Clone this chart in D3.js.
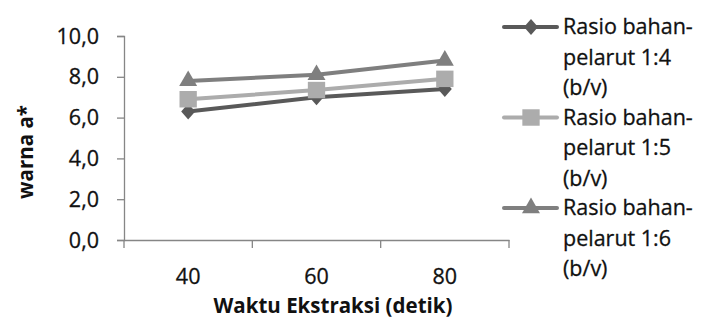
<!DOCTYPE html>
<html>
<head>
<meta charset="utf-8">
<script src="https://cdn.jsdelivr.net/npm/d3@7"></script>
<style>
  html, body { margin: 0; padding: 0; background: #fff; }
  svg { display: block; }
  text { font-family: "Open Sans", "Noto Sans", sans-serif; fill: #111; }
  text.reg { stroke: #111; stroke-width: 0.3px; }
</style>
</head>
<body>
<svg id="chart" width="704" height="327"></svg>
<script>
// Waktu ekstraksi (detik) and warna a* per rasio bahan-pelarut
const waktu = [40, 60, 80];
const rasio14 = [6.3, 7.0, 7.4];
const rasio15 = [6.9, 7.35, 7.9];
const rasio16 = [7.8, 8.1, 8.8];
const seriesNames = [
  ["Rasio bahan-", "pelarut 1:4", "(b/v)"],
  ["Rasio bahan-", "pelarut 1:5", "(b/v)"],
  ["Rasio bahan-", "pelarut 1:6", "(b/v)"]
];
const yTicks = [0, 2, 4, 6, 8, 10];
const xTitle = "Waktu Ekstraksi (detik)";
const yTitle = "warna a*";

const series = [
  { name: seriesNames[0], values: rasio14, color: "#595959", symbol: d3.symbolDiamond2, size: 125, sy: 1.15 },
  { name: seriesNames[1], values: rasio15, color: "#acacac", symbol: d3.symbolSquare, size: 300, sy: 0.95 },
  { name: seriesNames[2], values: rasio16, color: "#7f7f7f", symbol: d3.symbolTriangle, size: 140, sy: 1 }
];

const svg = d3.select("#chart");
const plot = { left: 124, right: 509, top: 36, bottom: 240 };

const x = d3.scaleBand().domain(waktu).range([plot.left, plot.right]).padding(0);
const y = d3.scaleLinear().domain([0, 10]).range([plot.bottom, plot.top]);
const locale = d3.formatLocale({ decimal: ",", thousands: ".", grouping: [3], currency: ["", ""] });
const fmt = locale.format(".1f");
const axisColor = "#868686";

function label(g, tx, ty, str, opts) {
  return g.append("text")
    .attr("class", opts.weight === "bold" ? "bold" : "reg")
    .attr("x", tx).attr("y", ty)
    .attr("font-size", opts.size)
    .attr("text-anchor", opts.anchor || "start")
    .attr("font-weight", opts.weight || "normal")
    .text(str);
}

// Y axis
const yAxis = svg.append("g").attr("transform", `translate(${plot.left},0)`)
  .call(d3.axisLeft(y).tickValues(yTicks).tickSize(7).tickFormat(""));
yAxis.select(".domain").attr("stroke", axisColor).attr("stroke-width", 1.3);
yAxis.selectAll(".tick line").attr("stroke", axisColor).attr("stroke-width", 1.3);
yTicks.forEach(v => label(svg, 99, y(v) + 7.5, fmt(v), { size: 21.5, anchor: "end" }));

// X axis: ticks at category boundaries, labels at band centers
const xAxis = svg.append("g").attr("transform", `translate(0,${plot.bottom})`)
  .call(d3.axisBottom(x).tickSize(0).tickFormat(""));
xAxis.select(".domain").attr("stroke", axisColor).attr("stroke-width", 1.3);
const edges = waktu.map(d => x(d)).concat([x(waktu[waktu.length - 1]) + x.bandwidth()]);
xAxis.selectAll(".edge").data(edges).enter().append("line")
  .attr("x1", d => d).attr("x2", d => d).attr("y1", 0).attr("y2", 8)
  .attr("stroke", axisColor).attr("stroke-width", 1.3);
waktu.forEach(d => label(svg, x(d) + x.bandwidth() / 2, 283.5, String(d), { size: 21.5, anchor: "middle" }));

// Axis titles
label(svg, 333, 313, xTitle, { size: 20.5, anchor: "middle", weight: "bold" });
svg.append("text")
  .attr("transform", "translate(33,152) rotate(-90)")
  .attr("font-size", 20.5).attr("font-weight", "bold").attr("text-anchor", "middle")
  .text(yTitle);

// Lines and markers
const cx = d => x(d) + x.bandwidth() / 2;
const line = d3.line().x((v, i) => cx(waktu[i])).y(v => y(v));
series.forEach(s => {
  svg.append("path").datum(s.values)
    .attr("d", line).attr("fill", "none")
    .attr("stroke", s.color).attr("stroke-width", 4).attr("stroke-linejoin", "round");
});
series.forEach(s => {
  svg.selectAll(null).data(s.values).enter().append("path")
    .attr("d", d3.symbol().type(s.symbol).size(s.size))
    .attr("transform", (v, i) => `translate(${cx(waktu[i])},${y(v)}) scale(1,${s.sy})`)
    .attr("fill", s.color);
});

// Legend
const legend = svg.append("g");
series.forEach((s, i) => {
  const top = 34 + i * 90.5;
  const my = top - 7;
  legend.append("line")
    .attr("x1", 504).attr("x2", 557).attr("y1", my).attr("y2", my)
    .attr("stroke", s.color).attr("stroke-width", 4).attr("stroke-linecap", "round");
  legend.append("path")
    .attr("d", d3.symbol().type(s.symbol).size(s.size))
    .attr("transform", `translate(531,${my}) scale(1,${s.sy})`)
    .attr("fill", s.color);
  s.name.forEach((ln, j) => label(legend, 563, top + j * 30.5, ln, { size: 21.5, anchor: "start" }));
});
</script>
</body>
</html>
